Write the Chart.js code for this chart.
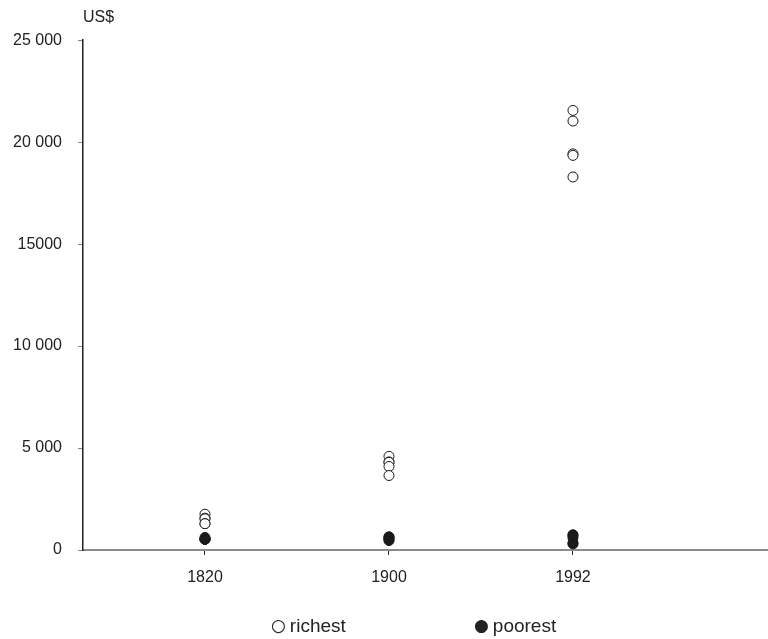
<!DOCTYPE html>
<html lang="en">
<head>
<meta charset="utf-8"/>
<title>Richest and poorest countries, GDP per capita</title>
<style>
  body, html {
    margin: 0;
    padding: 0;
    background: #fff;
    overflow: hidden;
  }
  #wrap {
    position: relative;
    width: 768px;
    height: 639px;
  }
  .key {
    position: absolute;
    top: 614px;
    font-family: 'Liberation Sans', Arial, sans-serif;
    font-size: 19px;
    color: #222;
    line-height: 22px;
    white-space: nowrap;
  }
  .key .mark {
    font-family: 'DejaVu Sans', sans-serif;
    font-size: 17px;
    margin-right: 4px;
    vertical-align: 1px;
  }
</style>
</head>
<body>
<div id="wrap">
  <canvas id="chart"></canvas>
  <span class="key" id="keyRich" style="left:271px;"></span>
  <span class="key" id="keyPoor" style="left:474px;"></span>
</div>
<script src="https://cdn.jsdelivr.net/npm/chart.js"></script>
<script>
  // years on the x axis
  const years = ['1820', '1900', '1992'];

  // GDP per capita (US$), five richest / five poorest countries per year
  const richest1820 = [1756, 1561, 1528, 1295, 1291];
  const richest1900 = [4593, 4320, 4299, 4096, 3652];
  const richest1992 = [21558, 21036, 19425, 19351, 18293];

  const poorest1820 = [614, 531, 531, 531, 523];
  const poorest1900 = [647, 625, 581, 509, 462];
  const poorest1992 = [748, 720, 601, 353, 300];

  // y tick labels as printed (note "15000" without space)
  const yTickLabels = ['0', '5 000', '10 000', '15000', '20 000', '25 000'];

  const FONT = "'Liberation Sans', Arial, sans-serif";

  function toPoints(groups) {
    const pts = [];
    groups.forEach((vals, i) => {
      vals.forEach(v => pts.push({ x: i, y: v }));
    });
    return pts;
  }

  const richPts = toPoints([richest1820, richest1900, richest1992]);
  const poorPts = toPoints([poorest1820, poorest1900, poorest1992]);

  const ctx = document.getElementById('chart').getContext('2d');
  const chart = new Chart(ctx, {
    type: 'scatter',
    data: {
      datasets: [
        {
          label: 'richest',
          data: richPts,
          pointRadius: 5,
          pointBorderWidth: 1,
          pointBackgroundColor: '#fff',
          pointBorderColor: '#1a1a1a'
        },
        {
          label: 'poorest',
          data: poorPts,
          pointRadius: 5,
          pointBorderWidth: 1,
          pointBackgroundColor: '#1a1a1a',
          pointBorderColor: '#1a1a1a'
        }
      ]
    },
    options: {
      responsive: true,
      maintainAspectRatio: false,
      animation: false,
      // the x axis runs right to the edge of the picture
      layout: { autoPadding: false, padding: { left: 0, right: 0, top: 0, bottom: 49 } },
      plugins: {
        legend: { display: false },
        tooltip: { enabled: false },
        title: {
          display: true,
          text: 'US$',
          align: 'start',
          fullSize: false,
          color: '#222',
          font: { family: FONT, size: 16, weight: 'normal' },
          padding: { top: 8, bottom: 13 }
        }
      },
      scales: {
        x: {
          type: 'linear',
          min: -0.663,
          max: 3.06,
          afterBuildTicks: s => { s.ticks = years.map((y, i) => ({ value: i })); },
          afterFit: s => { s.height = 40; },
          border: { display: true, color: '#8c8c8c', width: 2 },
          grid: { drawOnChartArea: false, drawTicks: true, tickLength: 5, color: '#222', lineWidth: 1 },
          ticks: {
            color: '#222',
            padding: 13,
            font: { family: FONT, size: 16 },
            callback: v => years[v]
          }
        },
        y: {
          min: 0,
          max: 25000,
          afterFit: s => { s.width = 83; },
          border: { display: true, color: '#222', width: 1.5 },
          grid: { drawOnChartArea: false, drawTicks: true, tickLength: 5, color: '#888', lineWidth: 1 },
          ticks: {
            stepSize: 5000,
            color: '#222',
            padding: 16,
            font: { family: FONT, size: 16 },
            callback: v => yTickLabels[v / 5000]
          }
        }
      }
    }
  });

  // text legend under the plot, built from the dataset labels
  const marks = ['\u25CB', '\u25CF'];
  ['keyRich', 'keyPoor'].forEach((id, i) => {
    const el = document.getElementById(id);
    el.innerHTML = '<span class="mark">' + marks[i] + '</span>' + chart.data.datasets[i].label;
  });
</script>
</body>
</html>
